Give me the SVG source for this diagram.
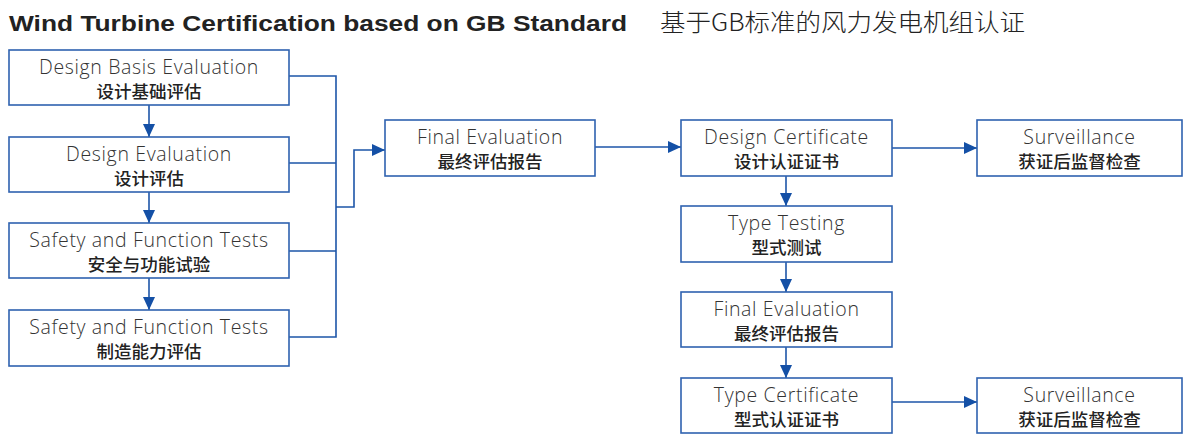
<svg xmlns="http://www.w3.org/2000/svg" width="1183" height="434" viewBox="0 0 1183 434">
<style>
.box{fill:#fff;stroke:#2f62b0;stroke-width:1.6}
.en{font-family:"Open Sans",Roboto,"Liberation Sans",sans-serif;font-weight:300;font-size:19.5px;letter-spacing:0.65px;fill:#333;text-anchor:middle}
.zh{font-family:"Noto Sans CJK SC",sans-serif;font-weight:500;font-size:17.5px;fill:#222;text-anchor:middle}
.ln{fill:none;stroke:#1d55a8;stroke-width:1.6}
</style>
<defs>
<marker id="ah" viewBox="0 0 13 12" refX="13" refY="6" markerWidth="13" markerHeight="12" markerUnits="userSpaceOnUse" orient="auto">
<path d="M0,0 L13,6 L0,12 Z" fill="#1450a6"/>
</marker>
</defs>
<rect width="1183" height="434" fill="#fff"/>
<g id="title">
<text x="9" y="31" font-family="'Liberation Sans',Arial,sans-serif" font-weight="bold" font-size="22" fill="#222" textLength="618" lengthAdjust="spacingAndGlyphs">Wind Turbine Certification based on GB Standard</text>
<text x="660" y="31" font-family="'Noto Sans CJK SC',sans-serif" font-weight="300" font-size="24" fill="#222" textLength="365" lengthAdjust="spacingAndGlyphs">基于GB标准的风力发电机组认证</text>
</g>
<g id="connectors">
<path class="ln" d="M289,76 H336 V337 H289 M289,163 H336 M289,251 H336 M336,207 H354 V150 H385" marker-end="url(#ah)"/>
<path class="ln" d="M149,105 V137" marker-end="url(#ah)"/>
<path class="ln" d="M149,192 V223" marker-end="url(#ah)"/>
<path class="ln" d="M149,278 V310" marker-end="url(#ah)"/>
<path class="ln" d="M595,147 H681" marker-end="url(#ah)"/>
<path class="ln" d="M892,148 H977" marker-end="url(#ah)"/>
<path class="ln" d="M786,176 V206" marker-end="url(#ah)"/>
<path class="ln" d="M786,262 V292" marker-end="url(#ah)"/>
<path class="ln" d="M786,347 V378" marker-end="url(#ah)"/>
<path class="ln" d="M892,402 H977" marker-end="url(#ah)"/>
</g>
<g id="n-design-basis"><rect class="box" x="9" y="50" width="280" height="55"/><text class="en" x="149" y="74">Design Basis Evaluation</text><text class="zh" x="149" y="98">设计基础评估</text></g>
<g id="n-design-eval"><rect class="box" x="9" y="137" width="280" height="55"/><text class="en" x="149" y="161">Design Evaluation</text><text class="zh" x="149" y="185">设计评估</text></g>
<g id="n-safety"><rect class="box" x="9" y="223" width="280" height="55"/><text class="en" x="149" y="247">Safety and Function Tests</text><text class="zh" x="149" y="271">安全与功能试验</text></g>
<g id="n-manufacturing"><rect class="box" x="9" y="310" width="280" height="56"/><text class="en" x="149" y="334">Safety and Function Tests</text><text class="zh" x="149" y="358">制造能力评估</text></g>
<g id="n-final1"><rect class="box" x="385" y="120" width="210" height="56"/><text class="en" x="490" y="144">Final Evaluation</text><text class="zh" x="490" y="168">最终评估报告</text></g>
<g id="n-design-cert"><rect class="box" x="681" y="120" width="211" height="56"/><text class="en" x="786.5" y="144">Design Certificate</text><text class="zh" x="786.5" y="168">设计认证证书</text></g>
<g id="n-surv1"><rect class="box" x="977" y="120" width="205" height="56"/><text class="en" x="1079.5" y="144">Surveillance</text><text class="zh" x="1079.5" y="168">获证后监督检查</text></g>
<g id="n-type-testing"><rect class="box" x="681" y="206" width="211" height="56"/><text class="en" x="786.5" y="230">Type Testing</text><text class="zh" x="786.5" y="254">型式测试</text></g>
<g id="n-final2"><rect class="box" x="681" y="292" width="211" height="55"/><text class="en" x="786.5" y="316">Final Evaluation</text><text class="zh" x="786.5" y="340">最终评估报告</text></g>
<g id="n-type-cert"><rect class="box" x="681" y="378" width="211" height="55"/><text class="en" x="786.5" y="402">Type Certificate</text><text class="zh" x="786.5" y="426">型式认证证书</text></g>
<g id="n-surv2"><rect class="box" x="977" y="378" width="205" height="55"/><text class="en" x="1079.5" y="402">Surveillance</text><text class="zh" x="1079.5" y="426">获证后监督检查</text></g>
</svg>
